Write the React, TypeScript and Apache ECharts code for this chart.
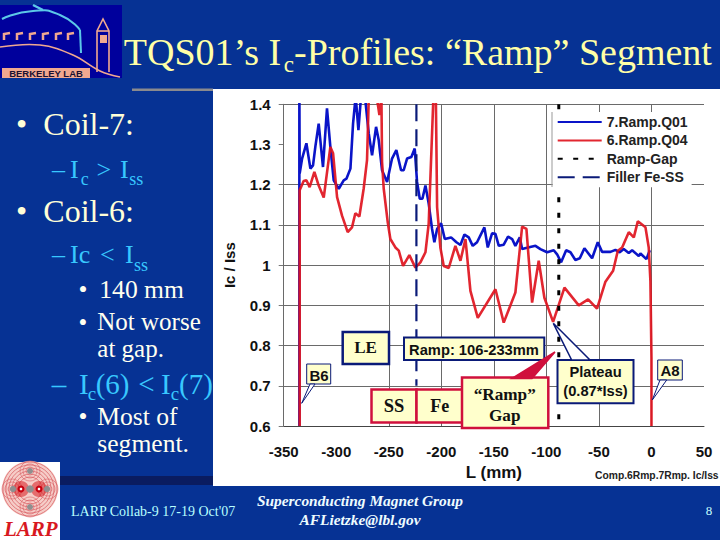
import React, { useEffect, useRef } from "react";
import * as echarts from "echarts";

const xTicks = { min: -350, max: 50, interval: 50 };
const yTicks = { min: 0.6, max: 1.4, interval: 0.1 };
const verticalGrid = [-350, -250, -200, -150, -100, -50, 0];
const horizontalGrid = [1.4, 1.2, 1.1, 1.0, 0.9, 0.8, 0.7];

const blueL = [-335.1, -335.1, -334.8, -332.5, -328.4, -324.6, -322.1, -319.9, -316.7, -312.6, -308.8, -305.6, -302.4, -297.6, -292.9, -290.3, -286.5, -284, -281.5, -278.9, -276.4, -272.3, -269.1, -265.9, -262.1, -259.6, -256.4, -251.6, -246.9, -242.8, -238.3, -235.8, -232.6, -228.5, -225.3, -223.1, -220.5, -218, -215.1, -212, -208.8, -206.6, -204, -200.2, -196.7, -190.7, -185.6, -181.8, -178, -173.9, -170.1, -166, -159, -155.8, -151.7, -148.5, -145.3, -140.6, -136.5, -132.6, -129.5, -125.3, -123.1, -118.4, -110.4, -105.7, -99.3, -93, -89.8, -86, -81.2, -77.1, -72.4, -68.2, -63.8, -56.5, -51.1, -47, -39, -34.3, -30.2, -26.4, -21.6, -18.4, -12.1, -10.5, -4.8, -1.6];
const blueV = [0.6, 1.45, 1.228, 1.265, 1.303, 1.24, 1.248, 1.294, 1.352, 1.244, 1.39, 1.294, 1.211, 1.19, 1.211, 1.215, 1.24, 1.352, 1.42, 1.336, 1.42, 1.41, 1.328, 1.273, 1.344, 1.311, 1.236, 1.207, 1.265, 1.286, 1.236, 1.236, 1.265, 1.269, 1.29, 1.207, 1.165, 1.165, 1.198, 1.153, 1.09, 1.057, 1.09, 1.104, 1.065, 1.069, 1.057, 1.05, 1.076, 1.069, 1.048, 1.057, 1.094, 1.044, 1.079, 1.078, 1.048, 1.051, 1.071, 1.065, 1.048, 1.069, 1.04, 1.043, 1.048, 1.04, 1.032, 1.037, 1.027, 1.007, 1.037, 1.032, 1.013, 1.017, 1.042, 1.017, 1.057, 1.033, 1.033, 1.038, 1.032, 1.04, 1.03, 1.037, 1.023, 1.029, 1.015, 1.037];

const redL = [-334.8, -334.8, -331, -328.4, -325.3, -320.8, -316.7, -311.9, -305.6, -303, -299.2, -294.5, -289.1, -285, -281.8, -278, -273.9, -270.7, -268.8, -262.7, -258.9, -257, -256.4, -254.8, -251, -248.5, -243.7, -240.5, -236.4, -230.4, -224.7, -219.9, -215.1, -212, -208.8, -207.2, -205.3, -204, -200.9, -197.7, -192.9, -186.6, -181.8, -177, -172.3, -165.3, -148.5, -140.6, -129.5, -123.1, -119, -113.6, -107.3, -101.9, -93.6, -82.8, -69.2, -60.3, -51.8, -43.8, -36.5, -32, -27.9, -21.6, -16.8, -13, -5.7, -2.6, -1, 0, 0];
const redV = [0.6, 1.186, 1.209, 1.211, 1.194, 1.232, 1.198, 1.168, 1.294, 1.278, 1.169, 1.123, 1.082, 1.094, 1.129, 1.121, 1.19, 1.261, 1.44, 1.44, 1.373, 1.42, 1.257, 1.19, 1.107, 1.065, 1.044, 1.036, 0.998, 1.025, 0.994, 1.007, 1.032, 1.103, 1.328, 1.44, 1.44, 1.144, 1.044, 0.998, 0.993, 1.048, 1.011, 1.065, 0.936, 0.869, 0.94, 0.857, 0.932, 1.096, 1.09, 0.907, 1.011, 0.919, 0.859, 0.944, 0.9, 0.915, 0.892, 0.959, 0.986, 1.036, 1.044, 1.082, 1.069, 1.109, 1.094, 1.044, 0.961, 0.769, 0.6];

const rampGapL = [-88.2, -88.2];
const rampGapV = [1.4, 0.6];
const fillerL = [-223.7, -223.7];
const fillerV = [1.4, 0.7];

const seriesNames = ["7.Ramp.Q01", "6.Ramp.Q04", "Ramp-Gap", "Filler Fe-SS"];

const NAVY = "#0a1a78";
const CRIMSON = "#d0103c";
const CREAM = "#ffffcc";
const TITLE = "#ffffa6";
const LEVEL1 = "#ffffd8";
const LEVEL2 = "#38c8ff";
const LEVEL3 = "#fffff0";
const SERIF = "'Liberation Serif', serif";
const SANS = "'Liberation Sans', sans-serif";

const zip = (a: number[], b: number[]) => a.map((v, i) => [v, b[i]]);

function txt(text: string, x: number, y: number, o: any = {}) {
  const { z, ...style } = o;
  return {
    type: "text",
    x,
    y,
    z: z ?? 12,
    style: { text, fontFamily: SERIF, fill: "#fff", align: "left", verticalAlign: "middle", ...style },
  };
}

// place a serif run by its baseline
function run(text: string, x: number, baseline: number, size: number, fill: string, o: any = {}) {
  return txt(text, x, baseline - 0.337 * size, { fontSize: size, fill, ...o });
}

function box(x: number, y: number, w: number, h: number, stroke: string, lw: number) {
  return { type: "rect", z: 11, shape: { x, y, width: w, height: h }, style: { fill: CREAM, stroke, lineWidth: lw } };
}

function pointer(pts: number[][], fill: string, stroke: string, lw: number) {
  return { type: "polygon", z: 11, shape: { points: pts }, style: { fill, stroke, lineWidth: lw } };
}

function ln(points: number[][], stroke: string, lineWidth: number, smooth = 0) {
  return { type: "polyline", z: 1, shape: { points, smooth }, style: { stroke, lineWidth, fill: "none" } };
}

function rect(x: number, y: number, w: number, h: number, fill: string, z = 1) {
  return { type: "rect", z, shape: { x, y, width: w, height: h }, style: { fill } };
}

function circ(cx: number, cy: number, r: number, style: any) {
  return { type: "circle", z: 1, shape: { cx, cy, r }, style };
}

const SALMON = "#f0a890";

const logoMarks = [4, 17, 30, 43, 56, 68].map((x) => ({
  type: "polyline",
  z: 1,
  shape: { points: [[x, 40], [x, 34], [x + 6, 33]] },
  style: { stroke: SALMON, lineWidth: 2.5, fill: "none" },
}));

const ringPink = (cx: number, cy: number, r: number, a = 0.55) =>
  circ(cx, cy, r, { fill: "none", stroke: `rgba(215,90,95,${a})`, lineWidth: 1 });

const lobes = [
  [30, 471],
  [30, 507],
  [12, 489],
  [48, 489],
];

const emblem = [
  circ(30, 489, 28, { fill: "#f6cdc8" }),
  ...[27, 24, 21, 18, 15, 12].map((r) => ringPink(30, 489, r, 0.7)),
  ...lobes.flatMap(([x, y]) => [ringPink(x, y, 10), ringPink(x, y, 7), ringPink(x, y, 4)]),
  circ(21, 489, 8, { fill: "rgba(215,30,35,0.55)" }),
  circ(39, 489, 8, { fill: "rgba(215,30,35,0.55)" }),
  circ(13, 489, 3.2, { fill: "#8f8f8f" }),
  circ(30, 489, 3.8, { fill: "#8f8f8f" }),
  circ(47, 489, 3.2, { fill: "#8f8f8f" }),
  circ(30, 471, 3, { fill: "#8f8f8f" }),
  circ(30, 507, 3, { fill: "#8f8f8f" }),
  circ(21, 489, 3.5, { fill: "#c80010" }),
  circ(39, 489, 3.5, { fill: "#c80010" }),
  circ(21, 489, 1.3, { fill: "#fff" }),
  circ(39, 489, 1.3, { fill: "#fff" }),
];

const slideElements: any[] = [
  rect(213, 89, 507, 397, "#ffffff", -5),
  rect(132, 88.5, 81, 2.5, "#8a8a8e", -5),
  rect(60, 476, 153, 9, "#0a1c60", -5),

  rect(0, 5, 122, 73, "#00009c"),
  ln([[2, 19], [33, 11], [60, 15], [80, 30]], "#5cc8e8", 2, 0.6),
  ln([[80, 30], [81, 53]], "#5cc8e8", 2),
  ln([[33, 5], [43, 10]], "#5cc8e8", 2.5),
  ...logoMarks,
  ln([[0, 47], [40, 45], [73, 55], [100, 71], [120, 77]], SALMON, 1.6, 0.4),
  ln([[97, 72], [97, 31], [103, 19], [109, 31], [109, 72]], SALMON, 1.6),
  ln([[97, 31], [109, 31]], SALMON, 1.6),
  rect(100, 35, 7, 8, SALMON),
  rect(2, 68, 88, 10, SALMON),
  txt("BERKELEY LAB", 46, 73.5, { z: 2, fontFamily: SANS, fontSize: 9.5, fontWeight: "bold", fill: "#1a1030", align: "center" }),

  rect(0, 462, 60, 78, "#ffffff"),
  ...emblem,
  txt("LARP", 4, 528.5, { fontSize: 21, fontWeight: "bold", fontStyle: "italic", fill: "#d81820" }),

  run("TQS01’s I", 123.8, 64.8, 38, TITLE),
  run("c", 283.8, 72.4, 23, TITLE),
  run("-Profiles: “Ramp” Segment", 294, 64.8, 38, TITLE),

  run("•", 16, 135, 32, LEVEL1),
  run("Coil-7:", 43.3, 135, 32, LEVEL1),
  run("–", 52, 178.3, 26, LEVEL2),
  run("I", 70, 178.3, 26, LEVEL2),
  run("c", 80.7, 185, 18, LEVEL2),
  run(">", 96.5, 178.3, 26, LEVEL2),
  run("I", 120, 178.3, 26, LEVEL2),
  run("ss", 129.3, 185, 18, LEVEL2),

  run("•", 16, 221.7, 32, LEVEL1),
  run("Coil-6:", 43.3, 221.7, 32, LEVEL1),
  run("–", 52, 263.3, 26, LEVEL2),
  run("Ic", 70, 263.3, 26, LEVEL2),
  run("<", 100, 263.3, 26, LEVEL2),
  run("I", 125, 263.3, 26, LEVEL2),
  run("ss", 134, 271, 18, LEVEL2),

  run("•", 78.5, 298.3, 25.6, LEVEL3),
  run("140 mm", 99.3, 298.3, 25.6, LEVEL3),
  run("•", 78.5, 330.7, 25, LEVEL3),
  run("Not worse", 97.3, 330.2, 25, LEVEL3, { }),
  run("at gap.", 97.3, 357.2, 25, LEVEL3),

  run("–", 51.7, 394, 29, LEVEL2),
  run("I", 79, 394, 29, LEVEL2),
  run("c", 87.7, 400, 19, LEVEL2),
  run("(6)", 95.7, 394, 29, LEVEL2),
  run("<", 138.3, 394, 29, LEVEL2),
  run("I", 161, 394, 29, LEVEL2),
  run("c", 170.7, 400, 19, LEVEL2),
  run("(7)", 179, 394, 29, LEVEL2),

  run("•", 78.5, 425, 25.6, LEVEL3),
  run("Most of", 97.3, 425, 25.6, LEVEL3),
  run("segment.", 97.3, 452.3, 25.6, LEVEL3),

  txt("LARP Collab-9 17-19 Oct'07", 71, 511, { fontSize: 14, fill: "#b8ffff" }),
  txt("Superconducting Magnet Group", 360, 500, { fontSize: 15.4, fontStyle: "italic", fontWeight: "bold", fill: "#eefcff", align: "center" }),
  txt("AFLietzke@lbl.gov", 360, 519, { fontSize: 15.4, fontStyle: "italic", fontWeight: "bold", fill: "#eefcff", align: "center" }),
  txt("8", 709, 510.5, { fontSize: 13, fill: "#c8ffff", align: "center" }),

  { type: "line", z: 10, shape: { x1: 552, y1: 112, x2: 552, y2: 187 }, style: { stroke: "#999", lineWidth: 1 } },

  box(342.7, 332, 46.3, 32, NAVY, 2.5),
  txt("LE", 365.5, 347, { fontSize: 17, fontWeight: "bold", fill: "#111", align: "center" }),
  box(404, 337.5, 140.3, 22.5, NAVY, 2),
  txt("Ramp: 106-233mm", 474, 349.5, { fontFamily: SANS, fontSize: 14.7, fontWeight: "bold", fill: "#111", align: "center" }),

  box(371.5, 389.5, 45, 33, CRIMSON, 2.5),
  txt("SS", 394, 406, { fontSize: 18.5, fontWeight: "bold", fill: "#111", align: "center" }),
  box(416.5, 389.5, 46, 33, CRIMSON, 2.5),
  txt("Fe", 439.7, 406, { fontSize: 18, fontWeight: "bold", fill: "#111", align: "center" }),
  box(462, 377.5, 86.3, 50.5, CRIMSON, 2.5),
  pointer([[512, 378.5], [555, 352], [532, 378.5]], CRIMSON, CRIMSON, 1.5),
  txt("“Ramp”", 504.7, 394, { fontSize: 17.2, fontWeight: "bold", fill: "#111", align: "center" }),
  txt("Gap", 504.7, 415, { fontSize: 17.2, fontWeight: "bold", fill: "#111", align: "center" }),

  box(557.5, 360, 76, 43.3, NAVY, 2),
  pointer([[553.3, 323.3], [571.7, 360], [590, 360]], "#ffffff", NAVY, 1.5),
  txt("Plateau", 595.5, 372, { fontFamily: SANS, fontSize: 14.7, fontWeight: "bold", fill: "#111", align: "center" }),
  txt("(0.87*Iss)", 595.5, 391, { fontFamily: SANS, fontSize: 14.7, fontWeight: "bold", fill: "#111", align: "center" }),

  box(306.7, 364, 24, 20, NAVY, 1),
  pointer([[301.7, 403.3], [310, 384], [315, 384]], "#ffffff", NAVY, 1),
  txt("B6", 319, 375, { fontFamily: SANS, fontSize: 15, fontWeight: "bold", fill: "#111", align: "center" }),
  box(657.7, 360, 24.6, 20, NAVY, 1),
  pointer([[652.3, 400], [660, 380], [666.7, 380]], "#ffffff", NAVY, 1),
  txt("A8", 670, 370.5, { fontFamily: SANS, fontSize: 15, fontWeight: "bold", fill: "#111", align: "center" }),

  txt("Comp.6Rmp.7Rmp. Ic/Iss", 595, 475, { fontFamily: SANS, fontSize: 10.3, fontWeight: "bold", fill: "#222", z: 3 }),
];

export default function App() {
  const ref = useRef<HTMLDivElement>(null);
  useEffect(() => {
    const chart = echarts.init(ref.current!, undefined, { renderer: "svg" });
    const lineFont = { fontFamily: SANS, fontWeight: "bold" as const, fontSize: 15, color: "#111" };
    chart.setOption({
      animation: false,
      backgroundColor: "#063294",
      graphic: { elements: slideElements },
      grid: { left: 283.7, right: 16, top: 104.3, bottom: 114, show: false },
      legend: {
        orient: "vertical",
        left: 552.7,
        top: 112,
        padding: [3, 4, 3, 4],
        itemWidth: 44,
        itemHeight: 14,
        itemGap: 4.4,
        itemStyle: { opacity: 0 },
        backgroundColor: "#ffffff",
        selectedMode: false,
        data: seriesNames,
        textStyle: { fontFamily: SANS, fontWeight: "bold", fontSize: 14, color: "#222", padding: [0, 0, 0, 0] },
      },
      xAxis: {
        type: "value",
        ...xTicks,
        splitLine: { show: false },
        axisLine: { show: true, onZero: false, lineStyle: { color: "#444", width: 1 } },
        axisTick: { show: false },
        axisLabel: { ...lineFont, margin: 18 },
        name: "L (mm)",
        nameLocation: "middle",
        nameGap: 35,
        nameTextStyle: { ...lineFont, fontSize: 17 },
      },
      yAxis: {
        type: "value",
        ...yTicks,
        splitLine: { show: false },
        axisLine: { show: true, onZero: false, lineStyle: { color: "#777", width: 1 } },
        axisTick: { show: true, length: 5, lineStyle: { color: "#777" } },
        axisLabel: { ...lineFont, margin: 13 },
        name: "Ic / Iss",
        nameLocation: "middle",
        nameGap: 47,
        nameTextStyle: { ...lineFont, fontSize: 15 },
      },
      series: [
        {
          name: seriesNames[0],
          type: "line",
          data: zip(blueL, blueV),
          symbol: "none",
          lineStyle: { color: "#0a14c8", width: 2.6 },
          itemStyle: { color: "#0a14c8" },
          markLine: {
            silent: true,
            symbol: "none",
            z: 1,
            label: { show: false },
            lineStyle: { color: "#6a6a6a", type: "solid", width: 1 },
            data: [...verticalGrid.map((v) => ({ xAxis: v })), ...horizontalGrid.map((v) => ({ yAxis: v }))],
          },
        },
        {
          name: seriesNames[1],
          type: "line",
          data: zip(redL, redV),
          symbol: "none",
          lineStyle: { color: "#e0141e", width: 2.6, opacity: 0.92 },
          itemStyle: { color: "#e0141e" },
        },
        {
          name: seriesNames[2],
          type: "line",
          data: zip(rampGapL, rampGapV),
          symbol: "none",
          lineStyle: { color: "#000", width: 3, type: [5, 10.5] },
          itemStyle: { color: "#000" },
        },
        {
          name: seriesNames[3],
          type: "line",
          data: zip(fillerL, fillerV),
          symbol: "none",
          lineStyle: { color: NAVY, width: 2.2, type: [17, 8] },
          itemStyle: { color: NAVY },
        },
      ],
    });
    return () => chart.dispose();
  }, []);
  return <div ref={ref} style={{ position: "absolute", left: 0, top: 0, width: 720, height: 540 }} />;
}
